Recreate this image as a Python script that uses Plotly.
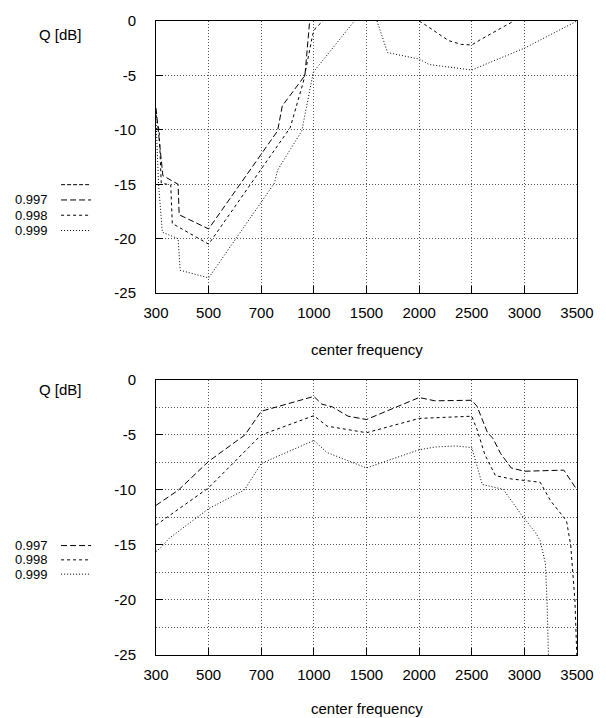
import plotly.graph_objects as go

# ---------------- data ----------------
# x positions are band positions on the (evenly spaced) center-frequency axis
freq_labels = ["300", "500", "700", "1000", "1500", "2000", "2500", "3000", "3500"]
freq_pos = [0, 1, 2, 3, 4, 5, 6, 7, 8]
y_ticks = [0, -5, -10, -15, -20, -25]
y_tick_text = ["0", "-5", "-10", "-15", "-20", "-25"]

# top panel
top_unl_x = [None]
top_unl_y = [None]
top_997_x = [0, 0.13, 0.42, 0.44, 1.0, 2.31, 2.4, 2.83, 2.92]
top_997_y = [-8.0, -14.2, -15.0, -17.8, -19.1, -10.1, -7.8, -5.0, 0.0]
top_998_x = [0, 0.06, 0.1, 0.28, 0.31, 1.0, 2.55, 2.8, 2.98, 3.03, 3.17,
             None, 5.0, 5.1, 5.56, 5.8, 6.0, 6.17, 6.54, 6.8]
top_998_y = [-8.6, -10.1, -14.9, -15.06, -18.6, -20.5, -9.8, -5.6, -1.2, -0.66, 0.0,
             None, 0.0, -0.3, -1.8, -2.15, -2.2, -1.7, -0.7, 0.0]
top_999_x = [0, 0.05, 0.12, 0.42, 0.46, 1.0, 2.25, 2.31, 2.77, 2.99, 3.77,
             None, 4.2, 4.4, 5.0, 5.19, 6.0, 7.0, 8.0]
top_999_y = [-9.0, -15.1, -19.4, -20.0, -22.9, -23.6, -14.9, -13.7, -10.1, -4.7, 0.0,
             None, 0.0, -2.9, -3.5, -4.0, -4.5, -2.5, 0.0]

# bottom panel
bot_997_x = [0, 0.43, 1.0, 1.69, 2.0, 3.0, 3.15, 3.35, 3.65, 4.0, 5.0, 5.3, 6.0,
             6.1, 6.3, 6.4, 6.55, 6.75, 7.0, 7.75, 8.0]
bot_997_y = [-11.4, -10.0, -7.4, -5.0, -2.85, -1.5, -2.2, -2.45, -3.3, -3.6, -1.6, -1.9, -1.85,
             -2.4, -4.8, -5.3, -6.7, -8.0, -8.3, -8.2, -10.0]
bot_998_x = [0, 1.0, 2.0, 3.0, 3.25, 4.0, 5.0, 6.0, 6.1, 6.25, 6.45, 6.75, 7.3,
             7.5, 7.8, 7.88, 7.96, 8.0]
bot_998_y = [-13.2, -9.8, -5.0, -3.25, -4.2, -4.8, -3.5, -3.3, -4.5, -6.8, -8.7, -9.0, -9.3,
             -11.0, -12.8, -15.0, -20.0, -25.5]
bot_999_x = [0, 0.1, 0.25, 1.0, 1.68, 2.0, 3.0, 3.25, 4.0, 5.0, 5.3, 5.7, 6.0,
             6.2, 6.6, 6.95, 7.2, 7.3, 7.4, 7.43, 7.46]
bot_999_y = [-15.6, -15.2, -14.4, -11.7, -10.0, -7.6, -5.5, -6.6, -8.0, -6.35, -6.1, -6.0, -6.15,
             -9.5, -9.95, -12.3, -13.8, -14.6, -16.7, -20.0, -25.5]

# ---------------- layout helpers ----------------
W, H = 606, 718
ML, MR, MT, MB = 156, 16, 12, 63
PW, PH = W - ML - MR, H - MT - MB


def px_x(p):
    return (p - ML) / PW


def px_y(p):
    return (H - MB - p) / PH


FONT = "Liberation Sans, Arial, Helvetica, sans-serif"
FS = 15
LFS = 13
dash_unl = "4px,2px"
dash_997 = "6px,3px"
dash_998 = "3px,3px"
dash_999 = "1px,2px"

fig = go.Figure()

series = [
    ("top_unl", top_unl_x, top_unl_y, dash_unl, "x", "y", "legend", 178),
    ("0.997", top_997_x, top_997_y, dash_997, "x", "y", "legend2", 193.5),
    ("0.998", top_998_x, top_998_y, dash_998, "x", "y", "legend3", 209),
    ("0.999", top_999_x, top_999_y, dash_999, "x", "y", "legend4", 224.5),
    ("0.997", bot_997_x, bot_997_y, dash_997, "x2", "y2", "legend5", 544),
    ("0.998", bot_998_x, bot_998_y, dash_998, "x2", "y2", "legend6", 558.5),
    ("0.999", bot_999_x, bot_999_y, dash_999, "x2", "y2", "legend7", 573),
]

legends = {}
annotations = []
for name, xs, ys, dash, xa, ya, lg, ly in series:
    fig.add_trace(go.Scatter(
        x=xs, y=ys, mode="lines", name=" ",
        line=dict(color="#000000", width=1, dash=dash),
        xaxis=xa, yaxis=ya, legend=lg, showlegend=True, connectgaps=False,
    ))
    legends[lg] = dict(
        x=px_x(53), y=px_y(ly), xanchor="left", yanchor="middle",
        bgcolor="rgba(0,0,0,0)", borderwidth=0, font=dict(size=6, family=FONT),
        itemwidth=30, tracegroupgap=0,
    )
    if not name.startswith("top_unl"):
        annotations.append(dict(
            x=px_x(9), y=px_y(ly), xref="paper", yref="paper", text=name,
            showarrow=False, xanchor="left", yanchor="middle",
            font=dict(size=LFS, family=FONT, color="#000"),
        ))

# axis titles
for ty, qy in [(345, 26), (709, 386)]:
    annotations.append(dict(x=0.5, y=px_y(ty), xref="paper", yref="paper",
                            text="center frequency", showarrow=False,
                            xanchor="center", yanchor="middle",
                            font=dict(size=FS, family=FONT, color="#000")))
    annotations.append(dict(x=px_x(58), y=px_y(qy), xref="paper", yref="paper",
                            text="Q [dB]", showarrow=False,
                            xanchor="center", yanchor="middle",
                            font=dict(size=FS, family=FONT, color="#000")))

top_dom = [px_y(288), 1.0]
bot_dom = [0.0, px_y(376)]

GRIDC = "#555555"
GRIDD = "1px,2px"
grid = dict(showgrid=True, gridcolor=GRIDC, gridwidth=1, griddash=GRIDD)
axis_common = dict(showline=True, linecolor="#000000", linewidth=1, mirror=True,
                   ticks="inside", ticklen=7, tickcolor="#000000", tickwidth=1,
                   zeroline=False, tickfont=dict(size=FS, family=FONT, color="#000"),
                   ticklabeloverflow="allow", **grid)

xax = dict(range=[0, 8], tickvals=freq_pos, ticktext=freq_labels,
           ticklabelstandoff=6, **axis_common)
yax_top = dict(range=[-25, 0], tickvals=y_ticks, ticktext=y_tick_text,
               ticklabelstandoff=16, **axis_common)
yax_bot = dict(range=[-25, 0], tickvals=y_ticks, ticktext=y_tick_text,
               ticklabelstandoff=16,
               minor=dict(dtick=2.5, showgrid=True, gridcolor=GRIDC,
                          griddash=GRIDD, gridwidth=1, ticks=""),
               **axis_common)

layout = dict(
    width=W, height=H, margin=dict(l=ML, r=MR, t=MT, b=MB),
    paper_bgcolor="white", plot_bgcolor="white",
    font=dict(family=FONT, size=FS, color="#000"),
    xaxis=dict(domain=[0, 1], anchor="y", **xax),
    yaxis=dict(domain=top_dom, anchor="x", **yax_top),
    xaxis2=dict(domain=[0, 1], anchor="y2", **xax),
    yaxis2=dict(domain=bot_dom, anchor="x2", **yax_bot),
    annotations=annotations,
)
layout.update(legends)
fig.update_layout(**layout)

fig.write_html(
    "out.html",
    config={"displayModeBar": False},
    post_script="document.body.style.margin='0';document.body.style.padding='0';"
                "document.body.style.overflow='hidden';",
)
